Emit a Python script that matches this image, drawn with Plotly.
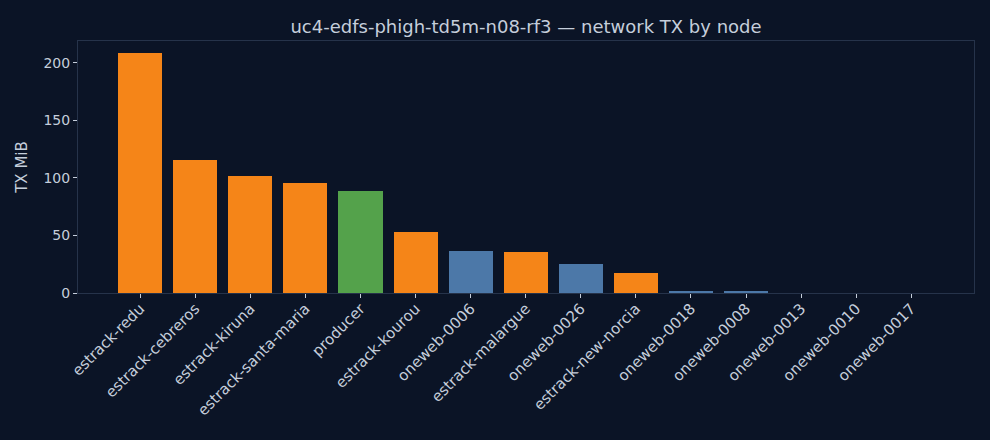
import plotly.graph_objects as go

# node names and TX volume (MiB)
nodes = [
    "estrack-redu", "estrack-cebreros", "estrack-kiruna", "estrack-santa-maria",
    "producer", "estrack-kourou", "oneweb-0006", "estrack-malargue",
    "oneweb-0026", "estrack-new-norcia", "oneweb-0018", "oneweb-0008",
    "oneweb-0013", "oneweb-0010", "oneweb-0017",
]
tx_mib = [208.7, 115.7, 101.7, 95.7, 88.7, 53.0, 36.5, 35.7,
          25.2, 17.4, 1.1, 1.0, 0.0, 0.0, 0.0]
roles = ["ground", "ground", "ground", "ground", "producer", "ground", "sat", "ground",
         "sat", "ground", "sat", "sat", "sat", "sat", "sat"]

role_colors = {"ground": "#f58518", "producer": "#54a24b", "sat": "#4c78a8"}

BG = "#0b1426"
TXT = "#c5cedb"
SPINE = "#26334a"

fig = go.Figure(go.Bar(
    x=list(range(len(nodes))),
    y=tx_mib,
    width=0.8,
    marker=dict(color=[role_colors[r] for r in roles], line=dict(width=0)),
))

fig.update_layout(
    width=990, height=440,
    paper_bgcolor=BG, plot_bgcolor=BG,
    margin=dict(l=78, r=16, t=41, b=147),
    font=dict(family="DejaVu Sans", size=14, color=TXT),
    title=dict(text="uc4-edfs-phigh-td5m-n08-rf3 — network TX by node",
               x=0.5, xref="paper", xanchor="center", y=0.94, yanchor="middle",
               font=dict(size=18, color=TXT)),
    showlegend=False,
    bargap=0,
)
fig.update_xaxes(
    range=[-1.13, 15.14],
    tickmode="array", tickvals=list(range(len(nodes))), ticktext=nodes,
    tickangle=-45, ticks="outside", ticklen=4, tickcolor=TXT,
    tickfont=dict(size=15), ticklabelstandoff=-4,
    showgrid=False, zeroline=False,
    showline=True, linecolor=SPINE, linewidth=1, mirror=True,
)
fig.update_yaxes(
    range=[0, 219.1],
    tickvals=[0, 50, 100, 150, 200],
    ticks="outside", ticklen=4, tickcolor=TXT,
    tickfont=dict(size=14),
    title=dict(text="TX MiB", standoff=12, font=dict(size=15)),
    showgrid=False, zeroline=False,
    showline=True, linecolor=SPINE, linewidth=1, mirror=True,
)

# drop the default page margin so the figure sits flush in the window
fig.write_html("out.html", config={"displayModeBar": False},
               post_script="document.body.style.margin='0';")
